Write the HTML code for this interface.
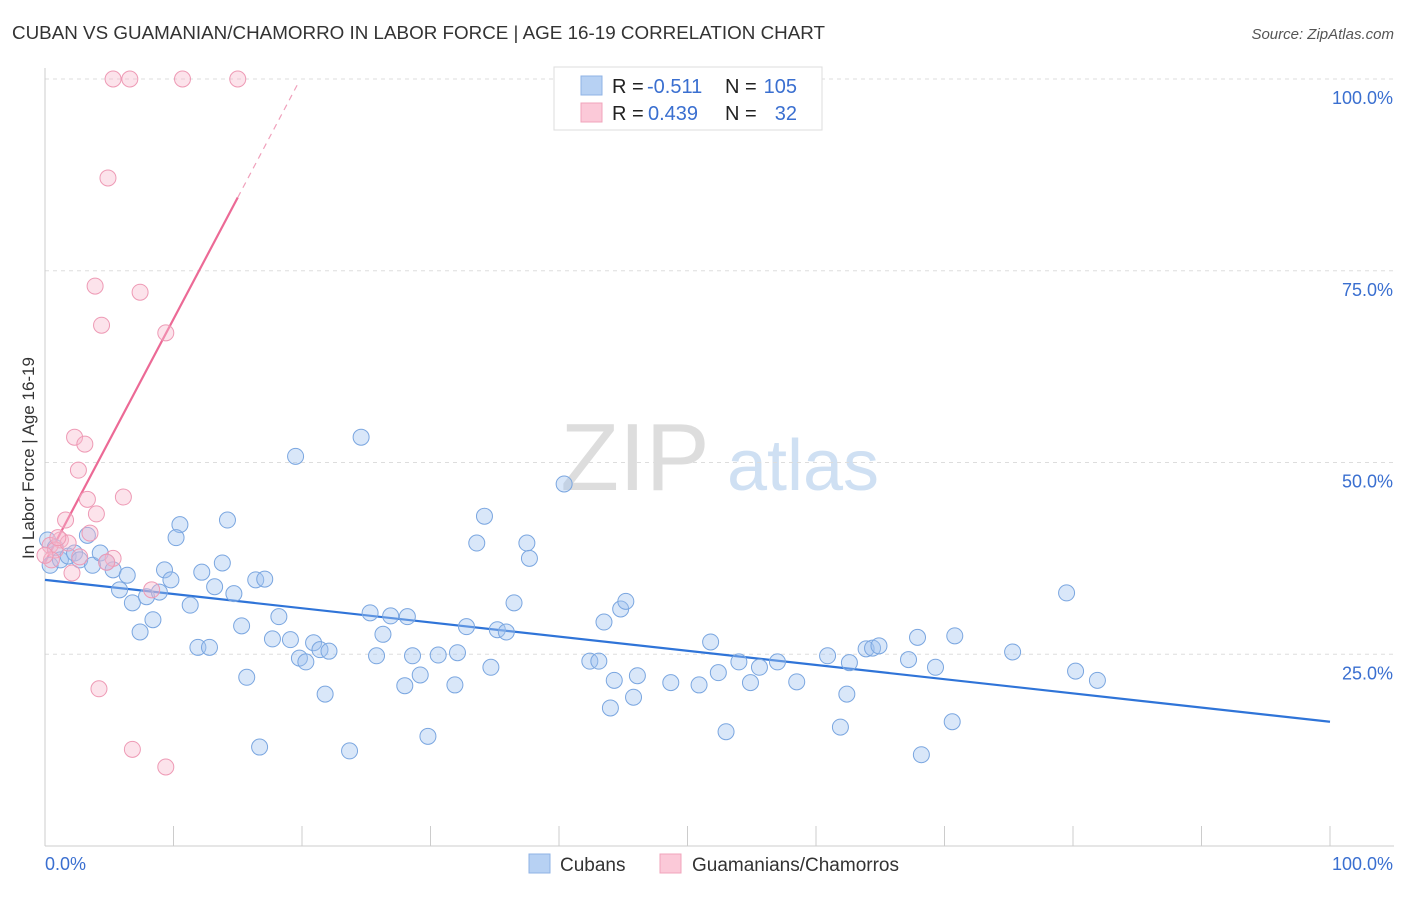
<!DOCTYPE html>
<html><head><meta charset="utf-8"><style>
body{margin:0;background:#fff;font-family:"Liberation Sans",sans-serif;}
svg text{font-family:"Liberation Sans",sans-serif;}
</style></head><body>
<svg id="chart" width="1406" height="892" xmlns="http://www.w3.org/2000/svg">
<text x="12" y="39" font-size="18.5" fill="#333" textLength="813" lengthAdjust="spacingAndGlyphs">CUBAN VS GUAMANIAN/CHAMORRO IN LABOR FORCE | AGE 16-19 CORRELATION CHART</text>
<text x="1394" y="39" font-size="15" fill="#555" text-anchor="end" font-style="italic">Source: ZipAtlas.com</text>
<text transform="translate(34,458) rotate(-90)" font-size="17" fill="#333" text-anchor="middle">In Labor Force | Age 16-19</text>
<g><text x="635" y="490" font-size="96" fill="#ddd" font-family="Liberation Serif" text-anchor="middle">ZIP</text><text x="803" y="490" font-size="72" fill="#cfe0f3" text-anchor="middle">atlas</text></g>
<g id="grid"></g><g id="axes"></g><g id="lines"></g><g id="pts"></g>
<g>
<rect x="554" y="67" width="268" height="63" fill="#fff" stroke="#ddd"/>
<rect x="581" y="76" width="21" height="19" fill="#b7d1f3" stroke="#8fb3e6"/>
<rect x="581" y="103" width="21" height="19" fill="#fbc9d8" stroke="#f0a4bb"/>
<text x="612" y="93" font-size="20" fill="#222">R =</text>
<text x="647" y="93" font-size="20" fill="#3a6fd0">-0.511</text>
<text x="725" y="93" font-size="20" fill="#222">N =</text>
<text x="797" y="93" font-size="20" fill="#3a6fd0" text-anchor="end">105</text>
<text x="612" y="120" font-size="20" fill="#222">R =</text>
<text x="648" y="120" font-size="20" fill="#3a6fd0">0.439</text>
<text x="725" y="120" font-size="20" fill="#222">N =</text>
<text x="797" y="120" font-size="20" fill="#3a6fd0" text-anchor="end">32</text>
</g>
<g>
<rect x="529" y="854" width="21" height="19" fill="#b7d1f3" stroke="#8fb3e6"/>
<text x="560" y="871" font-size="19" fill="#333">Cubans</text>
<rect x="660" y="854" width="21" height="19" fill="#fbc9d8" stroke="#f0a4bb"/>
<text x="692" y="871" font-size="19" fill="#333">Guamanians/Chamorros</text>
</g>
</svg>
<script>
const blueX=[0.2,0.4,0.8,1.2,1.8,2.3,2.7,3.3,3.7,4.3,4.8,5.3,5.8,6.4,6.8,7.4,7.9,8.4,8.9,9.3,9.8,10.5,10.2,11.3,11.9,12.2,12.8,13.2,13.8,14.2,14.7,15.3,15.7,16.4,16.7,17.1,17.7,18.2,19.1,19.5,19.8,20.3,20.9,21.4,21.8,22.1,23.7,24.6,25.3,25.8,26.3,26.9,28.0,28.2,28.6,29.2,29.8,30.6,31.9,32.1,32.8,33.6,34.2,34.7,35.2,35.9,36.5,37.5,37.7,40.4,42.4,43.1,43.5,44.0,44.3,44.8,45.2,45.8,46.1,48.7,50.9,51.8,52.4,53.0,54.0,54.9,55.6,57.0,58.5,60.9,61.9,62.4,62.6,63.9,64.4,64.9,67.2,67.9,68.2,69.3,70.6,70.8,75.3,79.5,80.2,81.9];
const blueY=[39.9,36.6,38.9,37.3,37.8,38.2,37.3,40.5,36.6,38.2,37.0,36.0,33.4,35.3,31.7,27.9,32.5,29.5,33.1,36.0,34.7,41.9,40.2,31.4,25.9,35.7,25.9,33.8,36.9,42.5,32.9,28.7,22.0,34.7,12.9,34.8,27.0,29.9,26.9,50.8,24.5,24.0,26.5,25.6,19.8,25.4,12.4,53.3,30.4,24.8,27.6,30.0,20.9,29.9,24.8,22.3,14.3,24.9,21.0,25.2,28.6,39.5,43.0,23.3,28.2,27.9,31.7,39.5,37.5,47.2,24.1,24.1,29.2,18.0,21.6,30.9,31.9,19.4,22.2,21.3,21.0,26.6,22.6,14.9,24.0,21.3,23.3,24.0,21.4,24.8,15.5,19.8,23.9,25.7,25.8,26.1,24.3,27.2,11.9,23.3,16.2,27.4,25.3,33.0,22.8,21.6];
const pinkX=[5.3,6.6,10.7,15.0,4.9,3.9,7.4,4.4,9.4,2.3,3.1,2.6,3.3,6.1,4.0,1.6,3.5,1.2,0.4,0.8,1.8,2.7,5.3,4.8,0.5,2.1,8.3,4.2,6.8,9.4,1.0,0.0];
const pinkY=[100,100,100,100,87.1,73.0,72.2,67.9,66.9,53.3,52.4,49.0,45.2,45.5,43.3,42.5,40.8,39.9,39.2,38.6,39.5,37.7,37.5,37.0,37.3,35.6,33.4,20.5,12.6,10.3,40.2,37.9];
const yTicks=[25,50,75,100];
const yTickLabels=["25.0%","50.0%","75.0%","100.0%"];
const xTickLabels=["0.0%","100.0%"];
const blueTrend=[34.7,16.2];
const pinkTrend=[37.0,3.17,15,19.8];
const X=v=>45+v*12.85, Y=v=>846-v*7.67;
const NS="http://www.w3.org/2000/svg";
function mk(p,tag,a){const e=document.createElementNS(NS,tag);for(const k in a)e.setAttribute(k,a[k]);p.appendChild(e);return e;}
const grid=document.getElementById('grid'),axes=document.getElementById('axes'),lines=document.getElementById('lines'),pts=document.getElementById('pts');
yTicks.forEach((t,i)=>{
 const g=mk(grid,'line',{x1:45,x2:1394,y1:Y(t),y2:Y(t),stroke:'#ddd','stroke-dasharray':'4,4'});
 
 
 const l=mk(axes,'text',{x:1393,y:Y(t)+25,'font-size':18,fill:'#3a6fd0','text-anchor':'end'});l.textContent=yTickLabels[i];
 
 
});
const ya=mk(axes,'line',{x1:45,x2:45,y1:68,y2:846,stroke:'#ccc'});


const xa=mk(axes,'line',{x1:45,x2:1394,y1:846,y2:846,stroke:'#ccc'});


for(let i=0;i<=10;i++){const t=mk(axes,'line',{x1:X(i*10),x2:X(i*10),y1:826,y2:846,stroke:'#ccc'});
 
 }
const xl0=mk(axes,'text',{x:45,y:870,'font-size':18,fill:'#3a6fd0'});xl0.textContent=xTickLabels[0];


const xl1=mk(axes,'text',{x:1393,y:870,'font-size':18,fill:'#3a6fd0','text-anchor':'end'});xl1.textContent=xTickLabels[1];


blueX.forEach((x,i)=>{const c=mk(pts,'circle',{cx:X(x),cy:Y(blueY[i]),r:8,fill:'rgba(160,195,240,0.4)',stroke:'#7aa6e0','stroke-width':1});
 
 });
pinkX.forEach((x,i)=>{const c=mk(pts,'circle',{cx:X(x),cy:Y(pinkY[i]),r:8,fill:'rgba(248,185,205,0.4)',stroke:'#ee9ab5','stroke-width':1});
 
 });
const bl=mk(lines,'line',{x1:X(0),y1:Y(blueTrend[0]),x2:X(100),y2:Y(blueTrend[1]),stroke:'#2f74d8','stroke-width':2.2});


const pf=x=>pinkTrend[0]+pinkTrend[1]*x;
const pl=mk(lines,'line',{x1:X(0),y1:Y(pf(0)),x2:X(pinkTrend[2]),y2:Y(pf(pinkTrend[2])),stroke:'#ec6a96','stroke-width':2.2});


const pd=mk(lines,'line',{x1:X(pinkTrend[2]),y1:Y(pf(pinkTrend[2])),x2:X(pinkTrend[3]),y2:Y(pf(pinkTrend[3])),stroke:'#f0a0bb','stroke-width':1.2,'stroke-dasharray':'6,5'});


</script>
</body></html>
